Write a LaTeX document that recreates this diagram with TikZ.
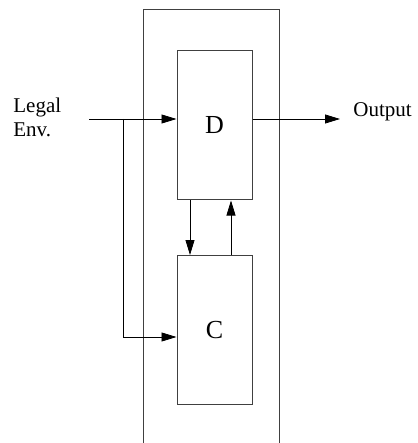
\documentclass[tikz,border=0pt]{standalone}
\usepackage{fontspec}
\setmainfont{Liberation Serif}
\usetikzlibrary{arrows.meta}
\begin{document}
\begin{tikzpicture}[x=1pt,y=-1pt,line width=0.8pt,
    box/.style={draw=black!75,line width=1pt,minimum width=75pt,minimum height=149pt,inner sep=0pt,font=\fontsize{26}{28}\selectfont},
    label/.style={inner sep=0pt,anchor=west,align=left,font=\fontsize{21}{24}\selectfont},
    flow/.style={-{Triangle[length=15pt,width=9pt]}}]
    \useasboundingbox (0,0) rectangle (417,443);
    % frame, open at the bottom
    \draw[black!75,line width=1pt] (143,443) -- (143,10) -- (279,10) -- (279,443);
    \node[box] (dbox) at (214.5,125.5) {D};
    \node[box] (cbox) at (214.5,330) {C};
    \node[label] (legal) at (13,117.5) {Legal\\Env.};
    \node[label] (output) at (353,112) {Output};
    \coordinate (in) at (89,119);
    \coordinate (split) at (123,119);
    \coordinate (out) at (340,119);
    \draw[flow] (in) -- (dbox.west |- in);
    \draw[flow] (split) |- ([yshift=-7pt]cbox.west);
    \draw[flow] (dbox.east |- in) -- (out);
    \draw[flow] ([xshift=-24.5pt]dbox.south) -- ([xshift=-24.5pt]cbox.north);
    \draw[flow] ([xshift=16.5pt]cbox.north) -- ([xshift=16.5pt]dbox.south);
\end{tikzpicture}
\end{document}
